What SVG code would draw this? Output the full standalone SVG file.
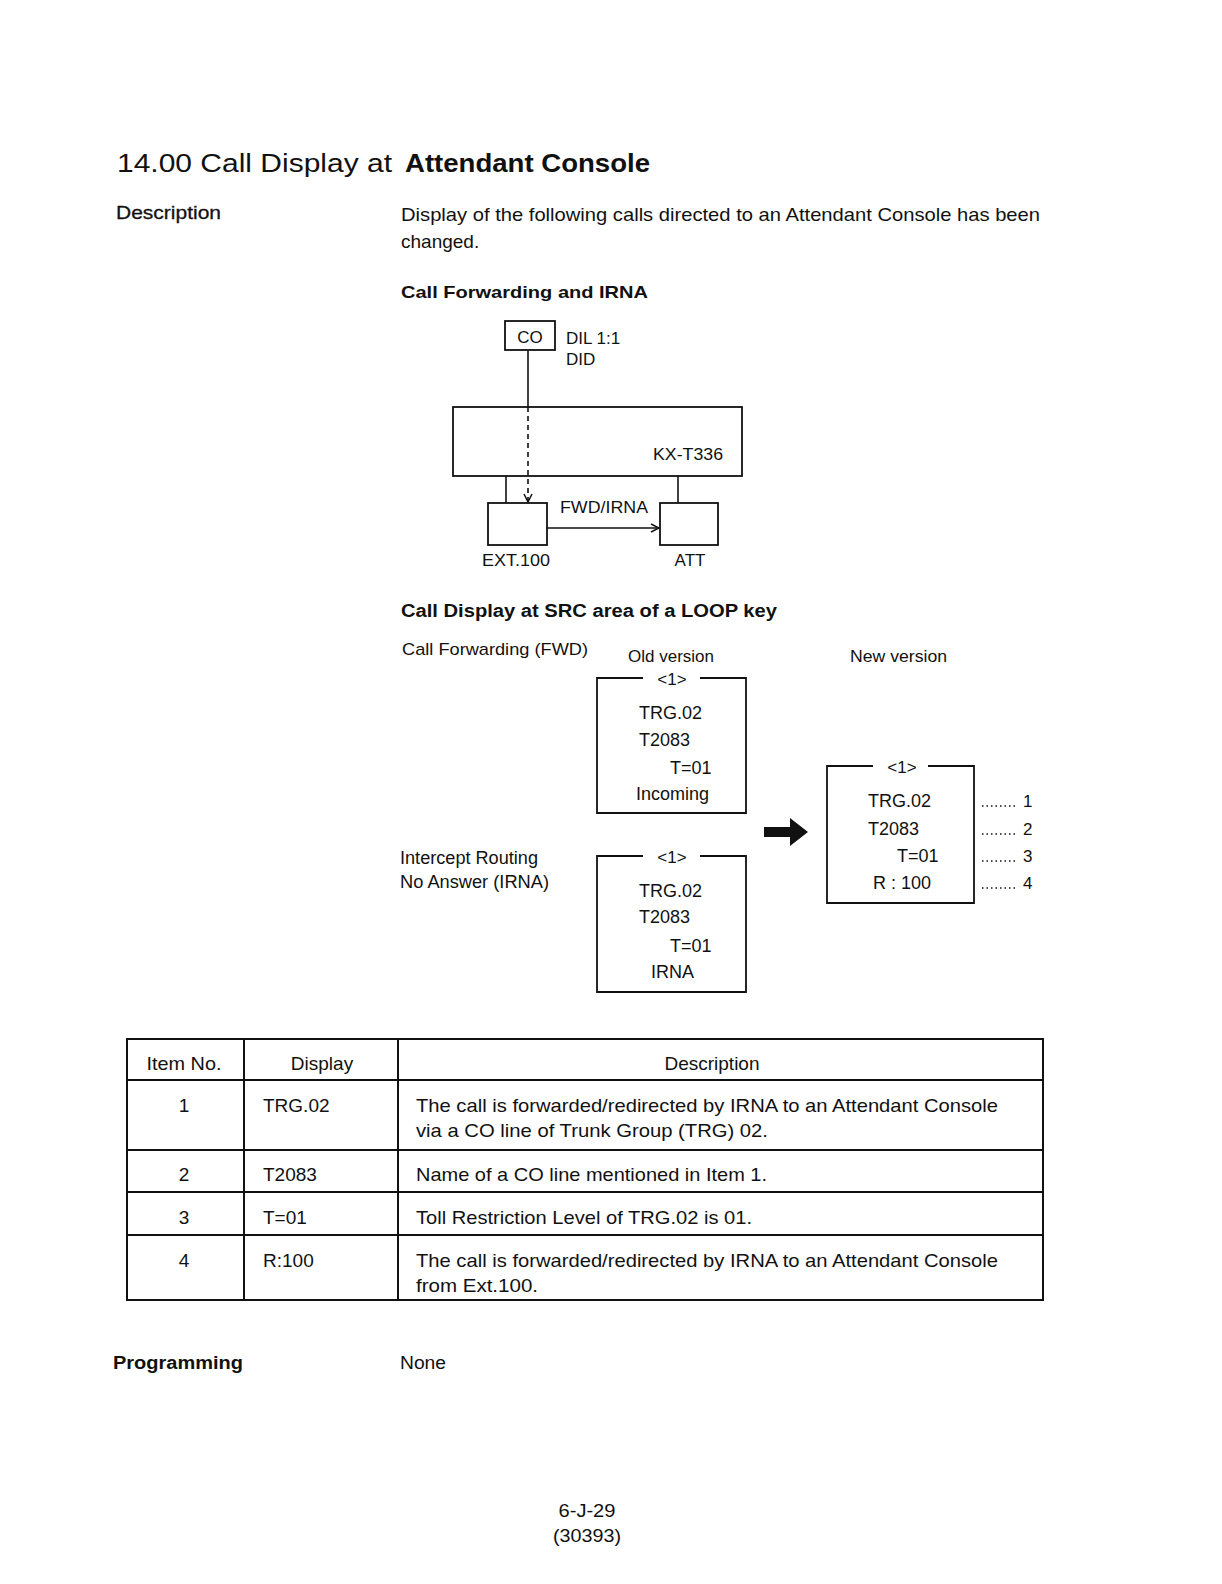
<svg xmlns="http://www.w3.org/2000/svg" width="1222" height="1584" viewBox="0 0 1222 1584">
<style>
text{font-family:"Liberation Sans",Arial,sans-serif;fill:#111}
.t{font-size:26px}
.b16{font-size:19px}
.h{font-size:17px;font-weight:bold}
.d{font-size:18px}
.s{font-size:17px}
.tb{font-size:19px}
.c{text-anchor:middle}
.ln{stroke:#111;stroke-width:1.6;fill:none}
.bx{stroke:#111;stroke-width:1.8;fill:none}
.tl{stroke:#111;stroke-width:2;fill:none}
.dot{stroke:#111;stroke-width:1.6;stroke-dasharray:1.5 3;fill:none}
</style>
<defs>
<marker id="ah" markerWidth="10" markerHeight="10" refX="9" refY="5" orient="auto" markerUnits="userSpaceOnUse">
<path d="M1,1 L9,5 L1,9" fill="none" stroke="#111" stroke-width="1.5"/>
</marker>
</defs>
<rect width="1222" height="1584" fill="#fff"/>

<g id="header">
<text x="117" y="172" class="t" textLength="275" lengthAdjust="spacingAndGlyphs">14.00  Call Display at</text>
<text x="405" y="172" class="t" font-weight="bold" textLength="245" lengthAdjust="spacingAndGlyphs">Attendant Console</text>
<text x="116" y="219" class="b16" stroke="#111" stroke-width="0.3" textLength="105" lengthAdjust="spacingAndGlyphs">Description</text>
<text x="401" y="221" class="b16" textLength="639" lengthAdjust="spacingAndGlyphs">Display of the following calls directed to an Attendant Console has been</text>
<text x="401" y="248" class="b16">changed.</text>
<text x="401" y="298" class="h" textLength="247" lengthAdjust="spacingAndGlyphs">Call Forwarding and IRNA</text>
</g>

<g id="co">
<rect x="505" y="321" width="50" height="29" class="bx"/>
<text x="530" y="343" class="s c">CO</text>
<text x="566" y="344" class="s">DIL 1:1</text>
<text x="566" y="365" class="s">DID</text>
</g>
<g id="kx">
<rect x="453" y="407" width="289" height="69" class="bx"/>
<text x="653" y="460" class="s" textLength="70" lengthAdjust="spacingAndGlyphs">KX-T336</text>
</g>
<g id="ext">
<rect x="488" y="503" width="59" height="42" class="bx"/>
<text x="516" y="566" class="s c" textLength="68" lengthAdjust="spacingAndGlyphs">EXT.100</text>
</g>
<g id="att">
<rect x="660" y="503" width="58" height="42" class="bx"/>
<text x="690" y="566" class="s c">ATT</text>
</g>
<g id="connectors">
<line x1="528" y1="350" x2="528" y2="407" class="ln"/>
<line x1="528" y1="407" x2="528" y2="502" class="ln" stroke-dasharray="5 4" marker-end="url(#ah)"/>
<line x1="506" y1="476" x2="506" y2="503" class="ln"/>
<line x1="678" y1="476" x2="678" y2="503" class="ln"/>
<line x1="547" y1="528" x2="659" y2="528" class="ln" marker-end="url(#ah)"/>
<text x="560" y="513" class="s" textLength="88" lengthAdjust="spacingAndGlyphs">FWD/IRNA</text>
<path d="M764,827 H790 V818 L808,832 L790,846 V837 H764 Z" fill="#111"/>
</g>

<g id="src">
<text x="401" y="617" class="d" font-weight="bold" textLength="376" lengthAdjust="spacingAndGlyphs">Call Display at SRC area of a LOOP key</text>
<text x="402" y="655" class="s" textLength="186" lengthAdjust="spacingAndGlyphs">Call Forwarding (FWD)</text>
<text x="628" y="662" class="s">Old version</text>
<text x="850" y="662" class="s" textLength="97" lengthAdjust="spacingAndGlyphs">New version</text>
<text x="400" y="864" class="d" textLength="138" lengthAdjust="spacingAndGlyphs">Intercept Routing</text>
<text x="400" y="888" class="d" textLength="149" lengthAdjust="spacingAndGlyphs">No Answer (IRNA)</text>
</g>

<g id="old1">
<path d="M643,678 H597 V813 H746 V678 H700" class="bx"/>
<text x="672" y="685" class="s c">&lt;1&gt;</text>
<text x="639" y="719" class="d">TRG.02</text>
<text x="639" y="746" class="d">T2083</text>
<text x="670" y="774" class="d">T=01</text>
<text x="636" y="800" class="d">Incoming</text>
</g>
<g id="old2">
<path d="M643,856 H597 V992 H746 V856 H700" class="bx"/>
<text x="672" y="863" class="s c">&lt;1&gt;</text>
<text x="639" y="897" class="d">TRG.02</text>
<text x="639" y="923" class="d">T2083</text>
<text x="670" y="952" class="d">T=01</text>
<text x="651" y="978" class="d">IRNA</text>
</g>
<g id="new">
<path d="M873,766 H827 V903 H974 V766 H928" class="bx"/>
<text x="902" y="773" class="s c">&lt;1&gt;</text>
<text x="868" y="807" class="d">TRG.02</text>
<text x="868" y="835" class="d">T2083</text>
<text x="897" y="862" class="d">T=01</text>
<text x="873" y="889" class="d">R : 100</text>
<line x1="982" y1="806" x2="1017" y2="806" class="dot"/>
<line x1="982" y1="834" x2="1017" y2="834" class="dot"/>
<line x1="982" y1="861" x2="1017" y2="861" class="dot"/>
<line x1="982" y1="888" x2="1017" y2="888" class="dot"/>
<text x="1023" y="807" class="s">1</text>
<text x="1023" y="835" class="s">2</text>
<text x="1023" y="862" class="s">3</text>
<text x="1023" y="889" class="s">4</text>
</g>

<g id="table">
<rect x="127" y="1039" width="916" height="261" class="tl"/>
<line x1="244" y1="1039" x2="244" y2="1300" class="tl"/>
<line x1="398" y1="1039" x2="398" y2="1300" class="tl"/>
<line x1="127" y1="1080" x2="1043" y2="1080" class="tl"/>
<line x1="127" y1="1150" x2="1043" y2="1150" class="tl"/>
<line x1="127" y1="1192" x2="1043" y2="1192" class="tl"/>
<line x1="127" y1="1235" x2="1043" y2="1235" class="tl"/>
<text x="184" y="1070" class="tb c" textLength="75" lengthAdjust="spacingAndGlyphs">Item No.</text>
<text x="322" y="1070" class="tb c">Display</text>
<text x="712" y="1070" class="tb c">Description</text>
<text x="184" y="1112" class="tb c">1</text>
<text x="263" y="1112" class="tb">TRG.02</text>
<text x="416" y="1112" class="tb" textLength="582" lengthAdjust="spacingAndGlyphs">The call is forwarded/redirected by IRNA to an Attendant Console</text>
<text x="416" y="1137" class="tb" textLength="352" lengthAdjust="spacingAndGlyphs">via a CO line of Trunk Group (TRG) 02.</text>
<text x="184" y="1181" class="tb c">2</text>
<text x="263" y="1181" class="tb">T2083</text>
<text x="416" y="1181" class="tb" textLength="351" lengthAdjust="spacingAndGlyphs">Name of a CO line mentioned in Item 1.</text>
<text x="184" y="1224" class="tb c">3</text>
<text x="263" y="1224" class="tb">T=01</text>
<text x="416" y="1224" class="tb" textLength="336" lengthAdjust="spacingAndGlyphs">Toll Restriction Level of TRG.02 is 01.</text>
<text x="184" y="1267" class="tb c">4</text>
<text x="263" y="1267" class="tb">R:100</text>
<text x="416" y="1267" class="tb" textLength="582" lengthAdjust="spacingAndGlyphs">The call is forwarded/redirected by IRNA to an Attendant Console</text>
<text x="416" y="1292" class="tb" textLength="122" lengthAdjust="spacingAndGlyphs">from Ext.100.</text>
</g>

<g id="footer">
<text x="113" y="1369" class="d" font-weight="bold" textLength="130" lengthAdjust="spacingAndGlyphs">Programming</text>
<text x="400" y="1369" class="d" textLength="46" lengthAdjust="spacingAndGlyphs">None</text>
<text x="587" y="1517" class="d c" textLength="57" lengthAdjust="spacingAndGlyphs">6-J-29</text>
<text x="587" y="1542" class="d c" textLength="68" lengthAdjust="spacingAndGlyphs">(30393)</text>
</g>
</svg>
